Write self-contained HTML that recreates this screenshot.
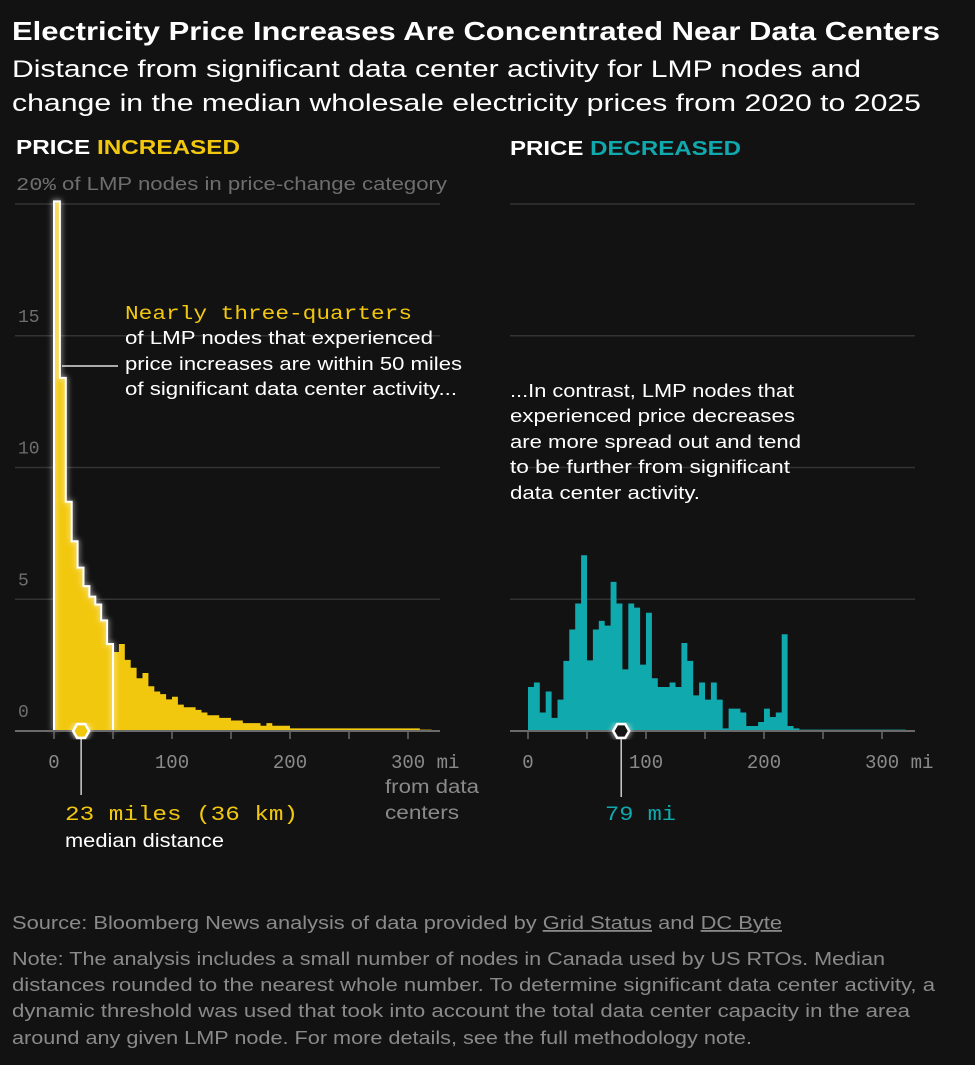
<!DOCTYPE html>
<html><head><meta charset="utf-8"><style>
html,body{margin:0;padding:0;background:#121212;}
body{width:975px;height:1065px;overflow:hidden;position:relative;font-family:"Liberation Sans",sans-serif;}
svg{position:absolute;left:0;top:0;}
.sans{font-family:"Liberation Sans",sans-serif;}
.mono{font-family:"Liberation Mono",monospace;}
</style></head><body>
<svg id="c" width="975" height="1065" viewBox="0 0 975 1065">
<defs><filter id="glow" x="-50%" y="-10%" width="200%" height="120%"><feGaussianBlur stdDeviation="3" result="b"/><feMerge><feMergeNode in="b"/><feMergeNode in="SourceGraphic"/></feMerge></filter></defs>
<text x="12" y="40" fill="#fff" font-size="26" font-weight="bold" class="sans" textLength="928" lengthAdjust="spacingAndGlyphs">Electricity Price Increases Are Concentrated Near Data Centers</text>
<text x="12" y="77" fill="#fff" font-size="24" class="sans" textLength="849" lengthAdjust="spacingAndGlyphs">Distance from significant data center activity for LMP nodes and</text>
<text x="12" y="111" fill="#fff" font-size="24" class="sans" textLength="909" lengthAdjust="spacingAndGlyphs">change in the median wholesale electricity prices from 2020 to 2025</text>
<text x="16" y="154" font-size="20" font-weight="bold" class="sans" textLength="224" lengthAdjust="spacingAndGlyphs"><tspan fill="#fff">PRICE </tspan><tspan fill="#f2c80f">INCREASED</tspan></text>
<text x="510" y="155" font-size="20" font-weight="bold" class="sans" textLength="231" lengthAdjust="spacingAndGlyphs"><tspan fill="#fff">PRICE </tspan><tspan fill="#10a9ad">DECREASED</tspan></text>
<text x="16" y="190" fill="#6e6e6e" font-size="18" textLength="431" lengthAdjust="spacingAndGlyphs"><tspan class="mono">20%</tspan><tspan class="sans"> of LMP nodes in price-change category</tspan></text>
<g id="grid"></g>
<g id="left"></g>
<g id="right"></g>
<g id="axes"></g>
<line x1="62" y1="366" x2="118" y2="366" stroke="#ddd" stroke-width="1.5"/>
<g font-size="18.5" class="sans" fill="#fff">
<text x="125" y="319" class="mono" fill="#f2c80f" font-size="19" textLength="287" lengthAdjust="spacingAndGlyphs">Nearly three-quarters</text>
<text x="125" y="344" textLength="308" lengthAdjust="spacingAndGlyphs">of LMP nodes that experienced</text>
<text x="125" y="370" textLength="337" lengthAdjust="spacingAndGlyphs">price increases are within 50 miles</text>
<text x="125" y="395" textLength="332" lengthAdjust="spacingAndGlyphs">of significant data center activity...</text></g>
<g font-size="18.5" class="sans" fill="#fff">
<text x="510" y="397" textLength="284" lengthAdjust="spacingAndGlyphs">...In contrast, LMP nodes that</text>
<text x="510" y="422" textLength="285" lengthAdjust="spacingAndGlyphs">experienced price decreases</text>
<text x="510" y="448" textLength="291" lengthAdjust="spacingAndGlyphs">are more spread out and tend</text>
<text x="510" y="473" textLength="280" lengthAdjust="spacingAndGlyphs">to be further from significant</text>
<text x="510" y="499" textLength="190" lengthAdjust="spacingAndGlyphs">data center activity.</text></g>
<text x="65" y="820" fill="#f2c80f" font-size="20" class="mono" textLength="233" lengthAdjust="spacingAndGlyphs">23 miles (36 km)</text>
<text x="65" y="847" fill="#fff" font-size="19" class="sans" textLength="159" lengthAdjust="spacingAndGlyphs">median distance</text>
<text x="605" y="820" fill="#10a9ad" font-size="20" class="mono" textLength="71" lengthAdjust="spacingAndGlyphs">79 mi</text>
<g fill="#8a8a8a" font-size="19" class="sans">
<text x="385" y="793" textLength="94" lengthAdjust="spacingAndGlyphs">from data</text>
<text x="385" y="819" textLength="74" lengthAdjust="spacingAndGlyphs">centers</text></g>
<text x="12" y="929" fill="#8a8a8a" font-size="18" class="sans" textLength="770" lengthAdjust="spacingAndGlyphs">Source: Bloomberg News analysis of data provided by <tspan text-decoration="underline">Grid Status</tspan> and <tspan text-decoration="underline">DC Byte</tspan></text>
<g fill="#8a8a8a" font-size="18" class="sans">
<text x="12" y="965" textLength="873" lengthAdjust="spacingAndGlyphs">Note: The analysis includes a small number of nodes in Canada used by US RTOs. Median</text>
<text x="12" y="991" textLength="923" lengthAdjust="spacingAndGlyphs">distances rounded to the nearest whole number. To determine significant data center activity, a</text>
<text x="12" y="1017" textLength="898" lengthAdjust="spacingAndGlyphs">dynamic threshold was used that took into account the total data center capacity in the area</text>
<text x="12" y="1044" textLength="740" lengthAdjust="spacingAndGlyphs">around any given LMP node. For more details, see the full methodology note.</text></g>
</svg>
<script>
const binWidth = 5;
const increasedValues = [20.1,13.4,8.7,7.2,6.2,5.5,5.1,4.8,4.2,3.3,3.0,3.3,2.7,2.4,2.0,2.2,1.7,1.5,1.4,1.2,1.3,1.0,0.9,0.9,0.8,0.7,0.6,0.6,0.5,0.5,0.4,0.4,0.3,0.3,0.3,0.2,0.3,0.2,0.2,0.2,0.1,0.1,0.1,0.1,0.1,0.1,0.1,0.1,0.1,0.1,0.1,0.1,0.1,0.1,0.1,0.1,0.1,0.1,0.1,0.1,0.1,0.1,0.05,0.05];
const decreasedValues = [1.67,1.84,0.7,1.5,0.5,1.19,2.66,3.85,4.84,6.67,2.68,3.85,4.18,4.0,5.66,4.84,2.34,4.84,4.68,2.52,4.49,2.0,1.67,1.67,1.84,1.67,3.34,2.66,1.35,1.84,1.19,1.84,1.19,0.1,0.85,0.85,0.7,0.19,0.19,0.34,0.85,0.53,0.7,3.67,0.19,0.1,0.05,0.05,0.05,0.05,0.05,0.05,0.05,0.05,0.05,0.05,0.05,0.05,0.05,0.05,0.05,0.05,0.05,0.05];
const yTicks = [0,5,10,15];
const xTicks = [0,100,200,300];
const xMinor = [0,50,100,150,200,250,300];
const medians = [23,79];
const highlightMax = 50;

const NS='http://www.w3.org/2000/svg';
const baseY=731, pxPerUnit=26.35, pxPerMi=1.18;
const yS=v=>baseY-v*pxPerUnit;
const xL=m=>54+m*pxPerMi;
const xR=m=>528+m*pxPerMi;
function mk(tag,attrs,parent){const e=document.createElementNS(NS,tag);for(const k in attrs)e.setAttribute(k,attrs[k]);parent.appendChild(e);return e;}
const grid=document.getElementById('grid'), axes=document.getElementById('axes');
[5,10,15,20].forEach(v=>{
  const g1=mk('line',{x1:15,x2:440,y1:yS(v),y2:yS(v),stroke:'#333','stroke-width':1.5},grid);
  
  
  const g2=mk('line',{x1:510,x2:915,y1:yS(v),y2:yS(v),stroke:'#333','stroke-width':1.5},grid);
  
  
});
yTicks.forEach(v=>{
  const t=mk('text',{x:18,y:yS(v)-14,fill:'#6e6e6e','font-size':18,'font-family':'Liberation Mono, monospace'},grid);
  t.textContent=v;
  
  
});
function hist(vals,xf,color,gid,outlineMax){
  const g=document.getElementById(gid);
  let d='M'+xf(0)+','+baseY;
  vals.forEach((v,i)=>{d+=' L'+xf(i*binWidth)+','+yS(v)+' L'+xf((i+1)*binWidth)+','+yS(v);});
  d+=' L'+xf(vals.length*binWidth)+','+baseY+' Z';
  const p=mk('path',{d:d,fill:color},g);
  
  
  vals.forEach((v,i)=>{
    const r=mk('rect',{x:xf(i*binWidth),y:yS(v),width:binWidth*pxPerMi,height:v*pxPerUnit,fill:'transparent'},g);
    
    
  });
  if(outlineMax){
    const n=outlineMax/binWidth;
    let o='M'+xf(0)+','+baseY;
    for(let i=0;i<n;i++){o+=' L'+xf(i*binWidth)+','+yS(vals[i])+' L'+xf((i+1)*binWidth)+','+yS(vals[i]);}
    o+=' L'+xf(outlineMax)+','+baseY;
    const ol=mk('path',{d:o,fill:'none',stroke:'#fff','stroke-width':2,filter:'url(#glow)'},g);
    
    
  }
}
hist(increasedValues,xL,'#f2c80f','left',highlightMax);
hist(decreasedValues,xR,'#10a9ad','right',0);
[[xL,15,440],[xR,510,915]].forEach(([xf,a,b],k)=>{
  const l=mk('line',{x1:a,x2:b,y1:baseY,y2:baseY,stroke:'#6a6a6a','stroke-width':2},axes);
  
  
  xMinor.forEach(m=>{
    const t=mk('line',{x1:xf(m),x2:xf(m),y1:baseY,y2:baseY+8,stroke:'#6a6a6a','stroke-width':1.5},axes);
    
    
  });
  xTicks.forEach(m=>{
    const t=mk('text',{x:xf(m),y:768,fill:'#8a8a8a','font-size':19,'font-family':'Liberation Mono, monospace','text-anchor':m===300?'start':'middle'},axes);
    if(m===300){t.setAttribute('x',xf(m)-17);t.textContent='300 mi';}else t.textContent=m;
    
    
  });
  const mx=xf(medians[k]);
  const ml=mk('line',{x1:mx,x2:mx,y1:baseY,y2:k?797:795,stroke:'#ccc','stroke-width':1.5},axes);
  
  
  const r=8,pts=[];for(let i=0;i<6;i++){const a2=Math.PI/3*i;pts.push((mx+r*Math.cos(a2))+','+(baseY+r*Math.sin(a2)));}
  const hx=mk('polygon',{points:pts.join(' '),fill:k?'#121212':'#f2c80f',stroke:'#fff','stroke-width':2.5,filter:'url(#glow)'},axes);
  
  
});
</script>
</body></html>
